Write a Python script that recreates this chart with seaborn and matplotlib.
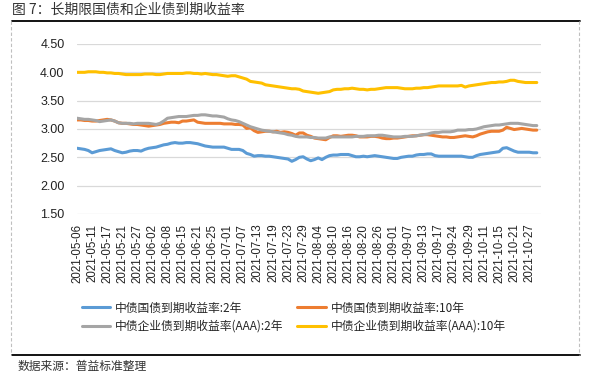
import pandas as pd
import matplotlib.pyplot as plt
import seaborn as sns
from matplotlib.lines import Line2D

# trading days (interbank calendar: weekend workdays included, holidays removed)
holidays = ['2021-06-14', '2021-09-20', '2021-09-21', '2021-10-01', '2021-10-04',
            '2021-10-05', '2021-10-06', '2021-10-07']
extra_days = ['2021-05-08', '2021-09-18', '2021-09-26', '2021-10-09']
days = pd.bdate_range('2021-05-06', '2021-10-29')
days = days.drop(pd.to_datetime(holidays)).union(pd.to_datetime(extra_days))
dates = [d.strftime('%Y-%m-%d') for d in days]

names = ['中债国债到期收益率:2年', '中债国债到期收益率:10年',
         '中债企业债到期收益率(AAA):2年', '中债企业债到期收益率(AAA):10年']
colors = ['#5B9BD5', '#ED7D31', '#A5A5A5', '#FFC000']

gov_2y = [2.66, 2.65, 2.64, 2.62, 2.58, 2.60, 2.62, 2.63, 2.64, 2.65,
          2.62, 2.60, 2.58, 2.59, 2.61, 2.62, 2.62, 2.61, 2.64, 2.66,
          2.67, 2.68, 2.70, 2.72, 2.73, 2.75, 2.76, 2.75, 2.75, 2.76,
          2.76, 2.75, 2.74, 2.72, 2.70, 2.69, 2.68, 2.68, 2.68, 2.68,
          2.66, 2.64, 2.64, 2.64, 2.62, 2.57, 2.55, 2.52, 2.53, 2.53,
          2.52, 2.52, 2.51, 2.50, 2.49, 2.48, 2.47, 2.43, 2.46, 2.50,
          2.51, 2.47, 2.44, 2.46, 2.49, 2.46, 2.50, 2.53, 2.54, 2.54,
          2.55, 2.55, 2.55, 2.53, 2.51, 2.51, 2.52, 2.51, 2.52, 2.53,
          2.52, 2.51, 2.50, 2.49, 2.48, 2.48, 2.50, 2.51, 2.52, 2.52,
          2.54, 2.55, 2.55, 2.56, 2.56, 2.53, 2.52, 2.52, 2.52, 2.52,
          2.52, 2.52, 2.52, 2.51, 2.50, 2.50, 2.53, 2.55, 2.56, 2.57,
          2.58, 2.59, 2.60, 2.66, 2.67, 2.64, 2.61, 2.59, 2.59, 2.59,
          2.59, 2.58, 2.58]
gov_10y = [3.16, 3.16, 3.15, 3.15, 3.14, 3.14, 3.15, 3.16, 3.17, 3.16,
           3.14, 3.11, 3.10, 3.10, 3.09, 3.08, 3.08, 3.07, 3.06, 3.05,
           3.06, 3.07, 3.08, 3.10, 3.11, 3.12, 3.12, 3.11, 3.14, 3.14,
           3.15, 3.16, 3.12, 3.11, 3.10, 3.10, 3.10, 3.10, 3.10, 3.09,
           3.09, 3.09, 3.08, 3.08, 3.07, 3.01, 3.02, 2.97, 2.94, 2.95,
           2.96, 2.96, 2.95, 2.96, 2.94, 2.95, 2.94, 2.92, 2.89, 2.93,
           2.93, 2.89, 2.87, 2.84, 2.83, 2.82, 2.81, 2.85, 2.88, 2.88,
           2.87, 2.88, 2.89, 2.89, 2.88, 2.86, 2.86, 2.86, 2.87, 2.87,
           2.86, 2.84, 2.83, 2.83, 2.84, 2.84, 2.85, 2.86, 2.87, 2.88,
           2.88, 2.89, 2.90, 2.90, 2.89, 2.88, 2.87, 2.86, 2.86, 2.85,
           2.85, 2.86, 2.87, 2.88, 2.87, 2.86, 2.88, 2.91, 2.93, 2.95,
           2.96, 2.96, 2.96, 2.98, 3.03, 3.01, 2.99, 3.00, 3.01, 3.00,
           2.99, 2.98, 2.98]
corp_2y = [3.19, 3.18, 3.17, 3.17, 3.16, 3.15, 3.13, 3.14, 3.15, 3.16,
           3.14, 3.11, 3.10, 3.10, 3.10, 3.09, 3.10, 3.10, 3.10, 3.10,
           3.09, 3.08, 3.10, 3.14, 3.19, 3.20, 3.21, 3.22, 3.22, 3.22,
           3.23, 3.24, 3.24, 3.25, 3.25, 3.24, 3.23, 3.23, 3.22, 3.21,
           3.18, 3.16, 3.15, 3.13, 3.10, 3.07, 3.04, 3.02, 3.00, 2.98,
           2.97, 2.96, 2.95, 2.94, 2.93, 2.92, 2.90, 2.89, 2.87, 2.86,
           2.86, 2.86, 2.85, 2.85, 2.84, 2.84, 2.84, 2.86, 2.86, 2.86,
           2.86, 2.86, 2.86, 2.86, 2.87, 2.87, 2.87, 2.88, 2.88, 2.88,
           2.89, 2.89, 2.88, 2.87, 2.86, 2.86, 2.86, 2.87, 2.87, 2.87,
           2.88, 2.89, 2.90, 2.91, 2.93, 2.94, 2.94, 2.95, 2.95, 2.95,
           2.96, 2.98, 2.98, 2.98, 2.99, 2.99, 3.00, 3.02, 3.04, 3.05,
           3.06, 3.07, 3.07, 3.08, 3.09, 3.10, 3.10, 3.10, 3.09, 3.08,
           3.07, 3.06, 3.06]
corp_10y = [4.00, 4.00, 4.00, 4.01, 4.01, 4.01, 4.00, 4.00, 3.99, 3.99,
            3.98, 3.98, 3.97, 3.96, 3.96, 3.96, 3.96, 3.96, 3.97, 3.97,
            3.97, 3.96, 3.96, 3.97, 3.98, 3.98, 3.98, 3.98, 3.98, 3.99,
            3.99, 3.98, 3.98, 3.97, 3.98, 3.97, 3.96, 3.96, 3.95, 3.94,
            3.93, 3.94, 3.94, 3.92, 3.90, 3.88, 3.84, 3.83, 3.82, 3.81,
            3.78, 3.77, 3.76, 3.75, 3.74, 3.73, 3.72, 3.71, 3.71, 3.70,
            3.67, 3.66, 3.65, 3.64, 3.63, 3.64, 3.65, 3.66, 3.69, 3.70,
            3.70, 3.71, 3.71, 3.72, 3.71, 3.70, 3.70, 3.69, 3.70, 3.70,
            3.71, 3.72, 3.73, 3.73, 3.73, 3.73, 3.72, 3.71, 3.71, 3.71,
            3.72, 3.72, 3.73, 3.73, 3.74, 3.75, 3.76, 3.76, 3.76, 3.76,
            3.76, 3.76, 3.77, 3.74, 3.76, 3.77, 3.78, 3.79, 3.80, 3.81,
            3.82, 3.82, 3.83, 3.83, 3.84, 3.86, 3.86, 3.84, 3.83, 3.82,
            3.82, 3.82, 3.82]

# long table for seaborn
frames = []
for name, vals in zip(names, [gov_2y, gov_10y, corp_2y, corp_10y]):
    frames.append(pd.DataFrame({'pos': range(len(dates)), 'date': dates,
                                'value': vals, 'series': name}))
df = pd.concat(frames, ignore_index=True)

sns.set_style('white')
plt.rcParams['font.family'] = ['Liberation Sans', 'Noto Sans CJK SC']
cjk = ['Noto Sans CJK SC', 'Liberation Sans']

fig = plt.figure(figsize=(5.92, 3.77), dpi=100)
ax = fig.add_axes([0.1301, 0.4324, 0.783, 0.4509])
sns.lineplot(data=df, x='pos', y='value', hue='series', hue_order=names,
             palette=dict(zip(names, colors)), linewidth=2.2, ax=ax)

ax.set_xlim(0, 123)
ax.set_ylim(1.5, 4.5)
ax.set_yticks([1.5, 2.0, 2.5, 3.0, 3.5, 4.0, 4.5])
ax.set_yticklabels([f'{v:.2f}' for v in ax.get_yticks()], fontsize=9, color='#222222')
ax.set_xticks(range(0, len(dates), 4))
ax.set_xticklabels(dates[::4], rotation=90, fontsize=8.3, color='#222222')
ax.tick_params(axis='both', length=0)
ax.tick_params(axis='x', pad=7)
ax.tick_params(axis='y', pad=9)
ax.grid(axis='y', color='#D9D9D9', linewidth=0.9)
ax.set_axisbelow(True)
for s in ax.spines.values():
    s.set_visible(False)
ax.set_xlabel('')
ax.set_ylabel('')

# legend fills by column, so reorder to get gov on row 1, corp on row 2
handles, labels = ax.get_legend_handles_labels()
ax.get_legend().remove()
order = [0, 2, 1, 3]
fig.legend([handles[i] for i in order], [labels[i] for i in order],
           loc='upper left', bbox_to_anchor=(0.138, 0.2),
           ncol=2, frameon=False, prop={'family': cjk, 'size': 8.5},
           handlelength=2.4, handletextpad=0.4, columnspacing=1.2,
           labelspacing=0.45, borderpad=0, borderaxespad=0)

# title, frame and source note
fig.text(0.02, 0.973, '图 7：长期限国债和企业债到期收益率', family=cjk, fontsize=10,
         color='#333333', va='center', ha='left')
fig.add_artist(Line2D([0.02, 0.98], [0.944, 0.944], color='black', linewidth=1.3))
fig.add_artist(Line2D([0.02, 0.98], [0.058, 0.058], color='black', linewidth=1.3))
fig.add_artist(Line2D([0.019, 0.019], [0.944, 0.058], color='#BFBFBF', linewidth=0.8,
                      linestyle=(0, (3, 2))))
fig.add_artist(Line2D([0.978, 0.978], [0.944, 0.058], color='#BFBFBF', linewidth=0.8,
                      linestyle=(0, (3, 2))))
fig.text(0.029, 0.029, '数据来源：普益标准整理', family=cjk, fontsize=8.5,
         color='#333333', va='center', ha='left')

fig.savefig('out.png', dpi=100)
